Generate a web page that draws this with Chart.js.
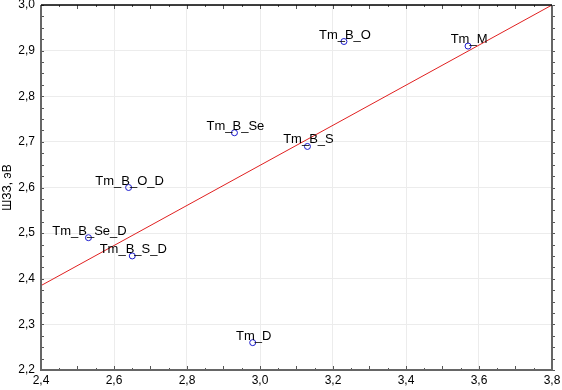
<!DOCTYPE html>
<html>
<head>
<meta charset="utf-8">
<script src="https://cdn.jsdelivr.net/npm/chart.js@4"></script>
<style>
  html, body { margin: 0; padding: 0; background: #fff; }
  #wrap { width: 562px; height: 390px; }
</style>
</head>
<body>
<div id="wrap"><canvas id="chart" width="562" height="390"></canvas></div>
<script>
// точки: ширина запрещённой зоны
var pointNames = ['Tm_B_O', 'Tm_M', 'Tm_B_Se', 'Tm_B_S', 'Tm_B_O_D', 'Tm_B_Se_D', 'Tm_B_S_D', 'Tm_D'];
var xValues = [3.23, 3.57, 2.93, 3.13, 2.64, 2.53, 2.65, 2.98];
var yValues = [2.92, 2.91, 2.72, 2.69, 2.60, 2.49, 2.45, 2.26];
// линия регрессии
var fitX = [2.4, 3.8];
var fitY = [2.385, 3.0];
var yTitle = 'ШЗЗ, эВ';

function fmt(v) {
    return v.toFixed(1).replace('.', ',');
}

var pointLabels = {
    id: 'pointLabels',
    afterDatasetsDraw: function (chart) {
        var ctx = chart.ctx;
        var meta = chart.getDatasetMeta(0);
        ctx.save();
        ctx.font = '13px "Liberation Sans", Arial, sans-serif';
        ctx.fillStyle = '#000';
        ctx.textAlign = 'center';
        ctx.textBaseline = 'alphabetic';
        meta.data.forEach(function (p, i) {
            ctx.fillText(pointNames[i], p.x + 1, p.y - 3);
        });
        ctx.restore();
    }
};

// рамка и мелкие засечки
var frame = {
    id: 'frame',
    afterDraw: function (chart) {
        var ctx = chart.ctx;
        var a = chart.chartArea;
        var xs = chart.scales.x, ys = chart.scales.y;
        ctx.save();
        ctx.strokeStyle = '#555';
        ctx.lineWidth = 1;
        ctx.beginPath();
        for (var v = 2.4; v <= 3.8001; v += 0.05) {
            var px = Math.round(xs.getPixelForValue(v)) + 0.5;
            var len = Math.abs(Math.round(v * 10) - v * 10) < 0.01 ? 4 : 2;
            ctx.moveTo(px, a.bottom); ctx.lineTo(px, a.bottom - len);
            ctx.moveTo(px, a.top); ctx.lineTo(px, a.top + len);
        }
        for (var w = 2.2; w <= 3.0001; w += 0.025) {
            var py = Math.round(ys.getPixelForValue(w)) + 0.5;
            ctx.moveTo(a.left, py); ctx.lineTo(a.left + 3, py);
            ctx.moveTo(a.right, py); ctx.lineTo(a.right + 3, py);
        }
        ctx.stroke();
        ctx.strokeStyle = '#666';
        ctx.lineWidth = 2;
        ctx.beginPath();
        ctx.moveTo(a.left, a.top); ctx.lineTo(a.left, a.bottom); ctx.lineTo(a.right, a.bottom); ctx.lineTo(a.right, a.top);
        ctx.stroke();
        ctx.strokeStyle = '#000';
        ctx.lineWidth = 1.5;
        ctx.beginPath();
        ctx.moveTo(a.left, a.top); ctx.lineTo(a.right, a.top);
        ctx.stroke();
        ctx.restore();
    }
};

var ctx = document.getElementById('chart').getContext('2d');
new Chart(ctx, {
    type: 'scatter',
    data: {
        datasets: [
            {
                data: xValues.map(function (x, i) { return { x: x, y: yValues[i] }; }),
                pointStyle: 'circle',
                pointRadius: 3,
                pointBorderWidth: 1,
                borderColor: '#1a1acc',
                backgroundColor: 'rgba(0,0,0,0)',
                showLine: false
            },
            {
                data: fitX.map(function (x, i) { return { x: x, y: fitY[i] }; }),
                showLine: true,
                borderColor: '#e02020',
                borderWidth: 1,
                pointRadius: 0,
                fill: false
            }
        ]
    },
    options: {
        responsive: false,
        animation: false,
        layout: { padding: { top: 5, right: 10, left: 0, bottom: 0 } },
        plugins: {
            legend: { display: false },
            tooltip: { enabled: false }
        },
        scales: {
            x: {
                type: 'linear',
                min: 2.4,
                max: 3.8,
                afterFit: function (s) { s.height = 20; s.paddingRight = 0; s.paddingLeft = 0; },
                ticks: {
                    stepSize: 0.2,
                    color: '#000',
                    padding: 3,
                    maxRotation: 0,
                    font: { family: '"Liberation Sans", Arial, sans-serif', size: 12 },
                    callback: function (v) { return fmt(v); }
                },
                grid: { color: '#ececec', drawTicks: false },
                border: { display: false }
            },
            y: {
                min: 2.2,
                max: 3.0,
                afterFit: function (s) { s.width = 41; s.paddingTop = 0; s.paddingBottom = 0; },
                ticks: {
                    stepSize: 0.1,
                    color: '#000',
                    padding: 6,
                    font: { family: '"Liberation Sans", Arial, sans-serif', size: 12 },
                    callback: function (v) { return fmt(v); }
                },
                grid: { color: '#ececec', drawTicks: false },
                border: { display: false },
                title: {
                    display: true,
                    text: yTitle,
                    color: '#000',
                    padding: 0,
                    font: { family: '"Liberation Sans", Arial, sans-serif', size: 12 }
                }
            }
        }
    },
    plugins: [pointLabels, frame]
});
</script>
</body>
</html>
